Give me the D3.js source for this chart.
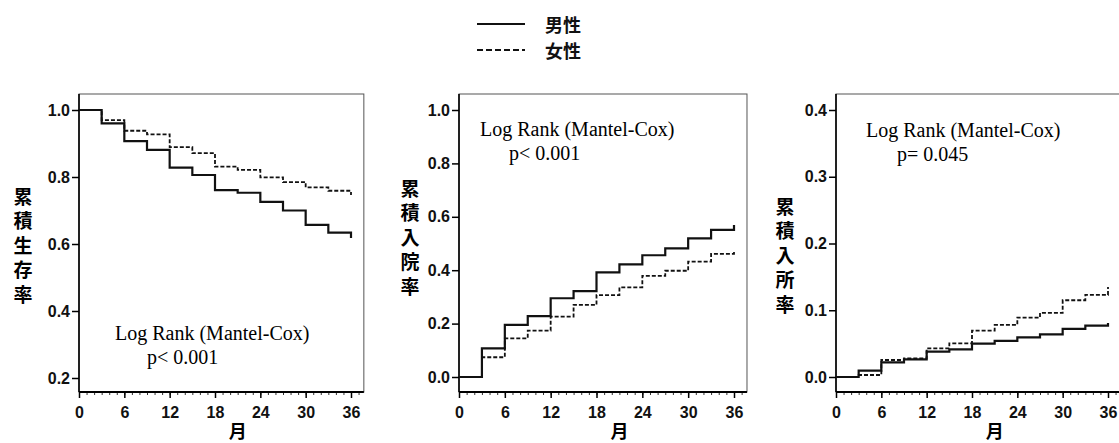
<!DOCTYPE html>
<html>
<head>
<meta charset="utf-8">
<script src="https://cdnjs.cloudflare.com/ajax/libs/d3/7.8.5/d3.min.js"></script>
<style>
  body { margin: 0; background: #fff; }
  .tick text { font-family: "Liberation Sans", Arial, sans-serif; font-weight: bold; }
</style>
</head>
<body>
<div id="chart"></div>
<script>
// months at which the curves step (every 3 months)
var months = [0, 3, 6, 9, 12, 15, 18, 21, 24, 27, 30, 33, 36];
var xTicks = [0, 6, 12, 18, 24, 30, 36];

// cumulative survival
var survMale   = [1.0, 0.960, 0.907, 0.881, 0.828, 0.806, 0.761, 0.753, 0.726, 0.700, 0.657, 0.634, 0.618];
var survFemale = [1.0, 0.970, 0.938, 0.927, 0.889, 0.871, 0.831, 0.821, 0.799, 0.785, 0.769, 0.759, 0.746];
// cumulative hospitalization
var hospMale   = [0, 0.107, 0.195, 0.228, 0.295, 0.322, 0.392, 0.422, 0.456, 0.482, 0.519, 0.551, 0.569];
var hospFemale = [0, 0.074, 0.145, 0.174, 0.226, 0.270, 0.307, 0.336, 0.379, 0.398, 0.432, 0.461, 0.473];
// cumulative institutionalization
var instMale   = [0, 0.0095, 0.022, 0.0265, 0.038, 0.0415, 0.050, 0.054, 0.0595, 0.064, 0.072, 0.077, 0.081];
var instFemale = [0, 0.003, 0.0255, 0.028, 0.043, 0.0505, 0.0695, 0.078, 0.089, 0.096, 0.115, 0.123, 0.135];

var survTicks = [0.2, 0.4, 0.6, 0.8, 1.0];
var hospTicks = [0.0, 0.2, 0.4, 0.6, 0.8, 1.0];
var instTicks = [0.0, 0.1, 0.2, 0.3, 0.4];

var legendLabels = ["男性", "女性"];
var yTitles = ["累積生存率", "累積入院率", "累積入所率"];
var xTitle = "月";
var testLabel = "Log Rank (Mantel-Cox)";
var pLabels = ["p< 0.001", "p< 0.001", "p= 0.045"];

var svg = d3.select("#chart").append("svg")
    .attr("width", 1119)
    .attr("height", 443);

// legend
var legend = svg.append("g");
legendLabels.forEach(function(lab, i) {
    var ly = 24 + i * 26;
    legend.append("line")
        .attr("x1", 477).attr("x2", 525)
        .attr("y1", ly).attr("y2", ly)
        .style("stroke", "#111")
        .style("stroke-width", i == 0 ? 2.2 : 2)
        .style("stroke-dasharray", i == 0 ? null : "6,3");
    legend.append("text")
        .attr("x", 545).attr("y", ly)
        .attr("dominant-baseline", "central")
        .style("font-family", "'Noto Sans CJK JP', sans-serif")
        .style("font-weight", "bold")
        .style("font-size", "18px")
        .style("fill", "#111")
        .text(lab);
});

KMPanel = function(_cfg) {
    this.cfg = _cfg;
    this.initVis();
}

KMPanel.prototype.initVis = function() {
    var vis = this;
    var c = vis.cfg;

    vis.top = 94;
    vis.bottom = 392;

    vis.x = d3.scaleLinear().domain([0, 36]).range([c.left, c.left + c.w]);
    vis.y = d3.scaleLinear().domain([c.ticks[0], c.ticks[c.ticks.length - 1]]).range([c.y0, 110]);

    vis.g = svg.append("g");

    // frame
    vis.g.append("rect")
        .attr("x", c.left)
        .attr("y", vis.top)
        .attr("width", vis.x(37.7) - c.left)
        .attr("height", vis.bottom - vis.top)
        .style("fill", "none")
        .style("stroke", "#555")
        .style("stroke-width", 1);

    // y axis
    var yAxis = d3.axisLeft(vis.y).tickValues(c.ticks).tickFormat(d3.format(".1f"))
        .tickSize(7).tickPadding(2);
    var ya = vis.g.append("g")
        .attr("transform", "translate(" + c.left + ",0)")
        .call(yAxis);
    ya.select(".domain").remove();
    ya.append("line")
        .attr("x1", 0).attr("x2", 0)
        .attr("y1", vis.top).attr("y2", vis.bottom)
        .style("stroke", "#000").style("stroke-width", 1.6);
    ya.selectAll("text").style("font-size", "16px").style("fill", "#111");
    ya.selectAll(".tick line").style("stroke-width", 1.5);

    // x axis, minor month ticks first
    var xMinor = d3.axisBottom(vis.x).tickValues(d3.range(0, 38)).tickSize(3).tickFormat("");
    var xm = vis.g.append("g")
        .attr("transform", "translate(0," + vis.bottom + ")")
        .call(xMinor);
    xm.select(".domain").remove();
    xm.selectAll("line").style("stroke", "#333");

    var xAxis = d3.axisBottom(vis.x).tickValues(xTicks).tickSize(6).tickPadding(9);
    var xa = vis.g.append("g")
        .attr("transform", "translate(0," + vis.bottom + ")")
        .call(xAxis);
    xa.select(".domain").remove();
    xa.append("line")
        .attr("x1", c.left).attr("x2", vis.x(37.7))
        .style("stroke", "#000").style("stroke-width", 2);
    xa.selectAll("text").style("font-size", "16px").style("fill", "#111");
    xa.selectAll(".tick line").style("stroke-width", 1.5);

    // axis titles
    vis.g.append("text")
        .attr("x", vis.x(21))
        .attr("y", 438)
        .attr("text-anchor", "middle")
        .style("font-family", "'Noto Sans CJK JP', sans-serif")
        .style("font-weight", "bold")
        .style("font-size", "18px")
        .text(xTitle);

    vis.g.selectAll(".ytitle")
        .data(c.title.split(""))
        .enter()
        .append("text")
        .attr("class", "ytitle")
        .attr("x", c.tx)
        .attr("y", function(d, i) { return c.ty + i * 24.5; })
        .attr("text-anchor", "middle")
        .attr("dominant-baseline", "central")
        .style("font-family", "'Noto Sans CJK JP', sans-serif")
        .style("font-weight", "bold")
        .style("font-size", "19px")
        .text(function(d) { return d; });

    // log rank annotation
    vis.g.append("text")
        .attr("x", c.ax).attr("y", c.ay)
        .style("font-family", "'Liberation Serif', 'Times New Roman', serif")
        .style("font-size", "20px")
        .text(testLabel);
    vis.g.append("text")
        .attr("x", c.px).attr("y", c.ay + 24)
        .style("font-family", "'Liberation Serif', 'Times New Roman', serif")
        .style("font-size", "20px")
        .text(c.p);

    vis.updateVis();
}

KMPanel.prototype.updateVis = function() {
    var vis = this;
    var c = vis.cfg;

    var line = d3.line()
        .x(function(d) { return vis.x(d[0]); })
        .y(function(d) { return vis.y(d[1]); })
        .curve(d3.curveStepAfter);

    var series = [
        { vals: c.female, dash: "4,2", width: 1.8 },
        { vals: c.male, dash: null, width: 2.2 }
    ];

    vis.g.selectAll(".km")
        .data(series)
        .enter()
        .append("path")
        .attr("class", "km")
        .attr("d", function(s) { return line(months.map(function(m, i) { return [m, s.vals[i]]; })); })
        .style("fill", "none")
        .style("stroke", "#111")
        .style("stroke-width", function(s) { return s.width; })
        .style("stroke-dasharray", function(s) { return s.dash; });
}

new KMPanel({ left: 79, w: 272, y0: 378, ticks: survTicks, male: survMale, female: survFemale,
    title: yTitles[0], tx: 23, ty: 195, ax: 115, px: 147, ay: 340, p: pLabels[0] });
new KMPanel({ left: 459, w: 275, y0: 377, ticks: hospTicks, male: hospMale, female: hospFemale,
    title: yTitles[1], tx: 410, ty: 187, ax: 480, px: 509, ay: 136, p: pLabels[1] });
new KMPanel({ left: 836, w: 272, y0: 377, ticks: instTicks, male: instMale, female: instFemale,
    title: yTitles[2], tx: 785, ty: 205, ax: 866, px: 897, ay: 137, p: pLabels[2] });
</script>
</body>
</html>
